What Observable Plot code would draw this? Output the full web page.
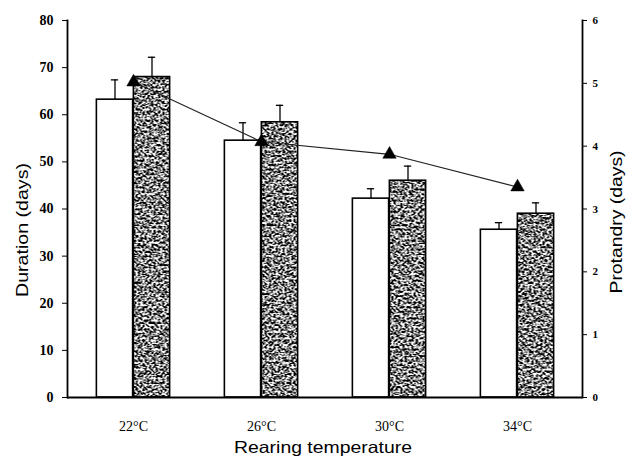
<!DOCTYPE html>
<html><head><meta charset="utf-8">
<script src="https://cdn.jsdelivr.net/npm/d3@7"></script>
<script src="https://cdn.jsdelivr.net/npm/@observablehq/plot@0.6"></script>
<style>body{margin:0;background:#fff}</style>
</head><body>
<div id="chart"></div>
<script>
const temps = ["22°C", "26°C", "30°C", "34°C"];
const males = [63.2, 54.5, 42.2, 35.6];
const malesErr = [4.2, 3.8, 2.1, 1.5];
const females = [68.0, 58.4, 46.0, 39.0];
const femalesErr = [4.2, 3.6, 3.1, 2.3];
const protandry = [5.02, 4.07, 3.87, 3.35];
const leftTicks = [0, 10, 20, 30, 40, 50, 60, 70, 80];
const rightTicks = [0, 1, 2, 3, 4, 5, 6];

const K = 80 / 6;
const bars = [
  ...temps.map((t, i) => ({temp: t, sex: "Males", value: males[i], err: malesErr[i]})),
  ...temps.map((t, i) => ({temp: t, sex: "Females", value: females[i], err: femalesErr[i]}))
];
const mData = bars.filter(d => d.sex === "Males");
const fData = bars.filter(d => d.sex === "Females");
const pData = temps.map((t, i) => ({temp: t, p: protandry[i]}));

const inset = (128.75 - 37) / 2;
const capInset = (128.75 - 8) / 2;

const plot = Plot.plot({
  width: 628, height: 460,
  marginLeft: 67, marginRight: 46, marginTop: 20, marginBottom: 63,
  style: {fontFamily: "Liberation Serif", color: "#000", background: "#fff"},
  x: {domain: temps, padding: 0, axis: null},
  y: {domain: [0, 80], axis: null},
  marks: [
    Plot.barY(mData, {x: "temp", y: "value", dx: -18.5, insetLeft: inset, insetRight: inset, fill: "#fff", stroke: "#000", strokeWidth: 1.6}),
    Plot.barY(fData, {x: "temp", y: "value", dx: 18.5, insetLeft: inset, insetRight: inset, fill: "url(#stipple)", stroke: "#000", strokeWidth: 1.6}),
    Plot.ruleX(mData, {x: "temp", y1: "value", y2: d => d.value + d.err, dx: -18.5, stroke: "#000", strokeWidth: 1.3}),
    Plot.ruleX(fData, {x: "temp", y1: "value", y2: d => d.value + d.err, dx: 18.5, stroke: "#000", strokeWidth: 1.3}),
    Plot.tickY(mData, {x: "temp", y: d => d.value + d.err, dx: -18.5, insetLeft: capInset, insetRight: capInset, stroke: "#000", strokeWidth: 1.3}),
    Plot.tickY(fData, {x: "temp", y: d => d.value + d.err, dx: 18.5, insetLeft: capInset, insetRight: capInset, stroke: "#000", strokeWidth: 1.3}),
    Plot.line(pData, {x: "temp", y: d => d.p * K, stroke: "#222", strokeWidth: 1.1}),
    Plot.dot(pData, {x: "temp", y: d => d.p * K, symbol: "triangle", r: 5, fill: "#000", stroke: "#000", strokeWidth: 0.5}),
    Plot.ruleY([0], {stroke: "#000", strokeWidth: 1.8}),
    Plot.frame({anchor: "left", stroke: "#000", strokeWidth: 1.8}),
    Plot.frame({anchor: "right", stroke: "#000", strokeWidth: 1.8}),
    Plot.axisY(leftTicks, {anchor: "left", tickSize: 5, tickPadding: 9, fontSize: 14, fontWeight: "bold", label: null}),
    Plot.axisY(rightTicks.map(v => v * K), {anchor: "right", tickSize: 4, tickPadding: 6, fontSize: 11, fontWeight: "bold", tickFormat: v => Math.round(v / K), label: null}),
    Plot.axisX(temps, {anchor: "bottom", tickSize: 0, tickPadding: 24, fontSize: 14, label: null})
  ]
});

const svg = d3.select(plot);
const defs = svg.insert("defs", ":first-child");
const f = defs.append("filter").attr("id", "noiseF")
  .attr("filterUnits", "userSpaceOnUse").attr("x", 0).attr("y", 0).attr("width", 628).attr("height", 460);
f.append("feTurbulence").attr("type", "fractalNoise").attr("baseFrequency", 0.45).attr("numOctaves", 2).attr("seed", 7).attr("result", "n");
f.append("feColorMatrix").attr("in", "n").attr("type", "matrix")
  .attr("values", "0 0 0 0 0  0 0 0 0 0  0 0 0 0 0  -5 0 0 0 3.0");
const pat = defs.append("pattern").attr("id", "stipple").attr("patternUnits", "userSpaceOnUse")
  .attr("x", 0).attr("y", 0).attr("width", 628).attr("height", 460);
pat.append("rect").attr("width", 628).attr("height", 460).attr("fill", "#fff");
pat.append("rect").attr("width", 628).attr("height", 460).attr("fill", "#000").attr("filter", "url(#noiseF)");

function title(x, y, rot, txt, len, size) {
  svg.append("text")
    .attr("transform", `translate(${x},${y})` + (rot ? " rotate(-90)" : ""))
    .attr("text-anchor", "middle").attr("dy", "0.35em")
    .attr("font-family", "Liberation Sans").attr("font-size", size).attr("fill", "#000")
    .attr("textLength", len).attr("lengthAdjust", "spacingAndGlyphs")
    .text(txt);
}
title(22, 230, true, "Duration (days)", 134, 16.5);
title(616, 222, true, "Protandry (days)", 143, 16.5);
title(323, 447, false, "Rearing temperature", 178, 16.5);
document.getElementById("chart").appendChild(plot);
</script>
</body></html>
